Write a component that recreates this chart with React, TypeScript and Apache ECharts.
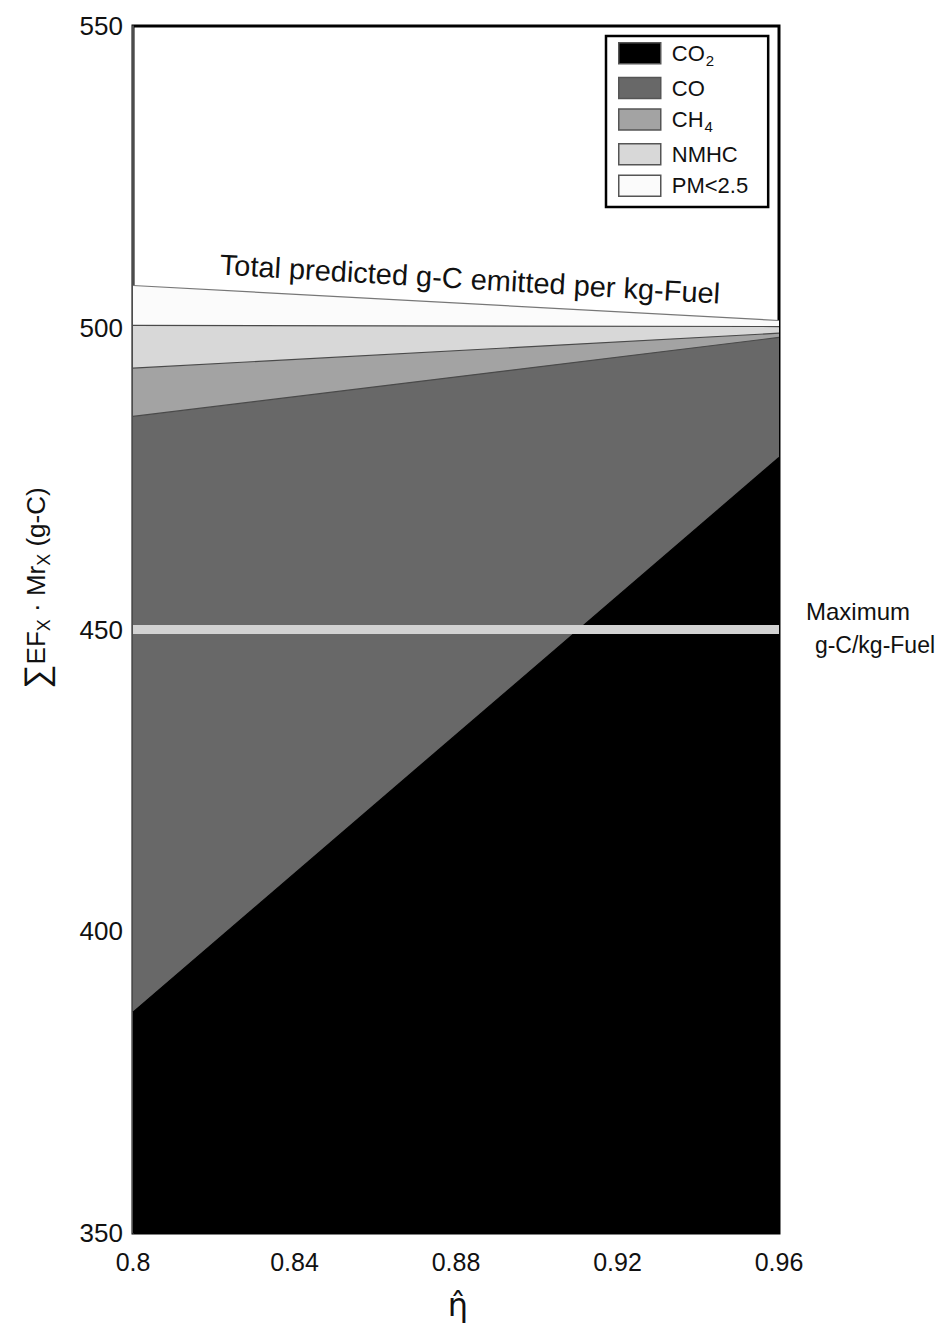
import React, { useEffect, useRef } from "react";
import * as echarts from "echarts";

const etaValues = [0.8, 0.96];
const co2Values = [386.6, 478.5];
const coValues = [98.7, 19.9];
const ch4Values = [8.0, 0.7];
const nmhcValues = [7.1, 1.1];
const pmValues = [6.6, 1.0];
const maxLineValues = [450, 450];
const seriesNames = ["CO2", "CO", "CH4", "NMHC", "PM<2.5"];
const seriesColors = ["#000000", "#686868", "#a3a3a3", "#d8d8d8", "#fbfbfb"];
const xTicks = [0.8, 0.84, 0.88, 0.92, 0.96];
const yTicks = [350, 400, 450, 500, 550];

const FONT = "'Liberation Sans', Arial, Helvetica, sans-serif";

function pairs(vals: number[]) {
  return etaValues.map((x, i) => [x, vals[i]]);
}

export default function App() {
  const ref = useRef<HTMLDivElement>(null);
  useEffect(() => {
    document.body.style.margin = "0";
    const chart = echarts.init(ref.current!, null, { renderer: "svg" });
    const stackVals = [co2Values, coValues, ch4Values, nmhcValues, pmValues];
    // cumulative tops
    const cumulative: number[][] = [];
    stackVals.forEach((vals, i) => {
      cumulative.push(vals.map((v, j) => (i === 0 ? v : cumulative[i - 1][j] + v)));
    });
    const stacked = cumulative.map((vals, i) => ({
      name: seriesNames[i],
      type: "line",
      data: pairs(vals.map((v) => Math.round(v * 100) / 100)),
      symbol: "none",
      showSymbol: false,
      color: seriesColors[i],
      lineStyle: { color: i === 0 ? "#000" : i === 4 ? "#777" : "#4a4a4a", width: 1.2 },
      areaStyle: { color: seriesColors[i], opacity: 1, origin: "start" },
      itemStyle: { color: seriesColors[i] },
      z: 8 - i,
    }));
    const legendLabel: Record<string, string> = {
      CO2: "{t|CO}{sub|2}",
      CO: "{t|CO}",
      CH4: "{t|CH}{sub|4}",
      NMHC: "{t|NMHC}",
      "PM<2.5": "{t|PM<2.5}",
    };
    chart.setOption({
      animation: false,
      backgroundColor: "#fff",
      grid: {
        left: 133,
        right: 156,
        top: 26,
        bottom: 97,
        show: true,
        borderColor: "#000",
        borderWidth: 3,
        backgroundColor: "#fff",
      },
      xAxis: {
        type: "value",
        min: 0.8,
        max: 0.96,
        interval: 0.04,
        axisLine: { show: false },
        axisTick: { show: false },
        splitLine: { show: false },
        axisLabel: {
          fontSize: 25,
          color: "#111",
          fontFamily: FONT,
          margin: 16,
          formatter: (v: number) => {
            const t = xTicks.find((x) => Math.abs(x - v) < 1e-6);
            return t !== undefined ? String(t) : "";
          },
        },
      },
      yAxis: {
        type: "value",
        min: 350,
        max: 550,
        interval: 50,
        axisLine: { show: true, lineStyle: { color: "#666", width: 1.5 } },
        axisTick: { show: false },
        splitLine: { show: false },
        axisLabel: {
          fontSize: 26,
          color: "#111",
          fontFamily: FONT,
          margin: 10,
          formatter: (v: number) => {
            const t = yTicks.find((y) => Math.abs(y - v) < 1e-6);
            return t !== undefined ? String(t) : "";
          },
        },
      },
      legend: {
        data: seriesNames,
        orient: "vertical",
        left: 606,
        top: 36,
        padding: [6, 20, 10, 12],
        itemWidth: 42,
        itemHeight: 21,
        itemGap: 9,
        icon: "rect",
        backgroundColor: "#fff",
        borderColor: "#000",
        borderWidth: 2.5,
        itemStyle: { borderColor: "#555", borderWidth: 1.5 },
        selectedMode: false,
        formatter: (name: string) => legendLabel[name] || name,
        textStyle: {
          fontFamily: FONT,
          color: "#111",
          fontSize: 22,
          padding: [0, 0, 0, 6],
          rich: {
            t: { fontSize: 22, fontFamily: FONT, color: "#111" },
            sub: { fontSize: 15, fontFamily: FONT, color: "#111", padding: [14, 0, 0, 1] },
          },
        },
      },
      series: [
        ...stacked,
        {
          name: "max",
          type: "line",
          data: pairs(maxLineValues),
          symbol: "none",
          showSymbol: false,
          lineStyle: { color: "#d2d2d2", width: 9 },
          z: 10,
        },
      ],
      graphic: [
        {
          type: "text",
          x: 470,
          y: 279,
          rotation: -0.058,
          style: {
            text: "Total predicted g-C emitted per kg-Fuel",
            fontSize: 29,
            fontFamily: FONT,
            fill: "#111",
            align: "center",
            verticalAlign: "middle",
          },
          z: 20,
        },
        {
          type: "text",
          x: 858,
          y: 611,
          style: {
            text: "Maximum",
            fontSize: 24,
            fontFamily: FONT,
            fill: "#111",
            align: "center",
            verticalAlign: "middle",
          },
        },
        {
          type: "text",
          x: 875,
          y: 645,
          style: {
            text: "g-C/kg-Fuel",
            fontSize: 23,
            fontFamily: FONT,
            fill: "#111",
            align: "center",
            verticalAlign: "middle",
          },
        },
        {
          type: "text",
          x: 36,
          y: 588,
          rotation: Math.PI / 2,
          style: {
            text: "{sig|∑}{t|EF}{sub|X}{t| · Mr}{sub|X}{t| (g-C)}",
            align: "center",
            verticalAlign: "middle",
            fill: "#111",
            rich: {
              sig: { fontSize: 34, fontFamily: FONT, fill: "#111" },
              t: { fontSize: 26, fontFamily: FONT, fill: "#111" },
              sub: { fontSize: 18, fontFamily: FONT, fill: "#111", padding: [16, 0, 0, 0] },
            },
          },
        },
        {
          type: "text",
          x: 458,
          y: 1305,
          style: {
            text: "η\u0302",
            fontSize: 32,
            fontFamily: "'DejaVu Sans', " + FONT,
            fill: "#111",
            align: "center",
            verticalAlign: "middle",
          },
        },
      ],
    });
    return () => chart.dispose();
  }, []);
  return <div ref={ref} style={{ width: 935, height: 1330 }} />;
}
